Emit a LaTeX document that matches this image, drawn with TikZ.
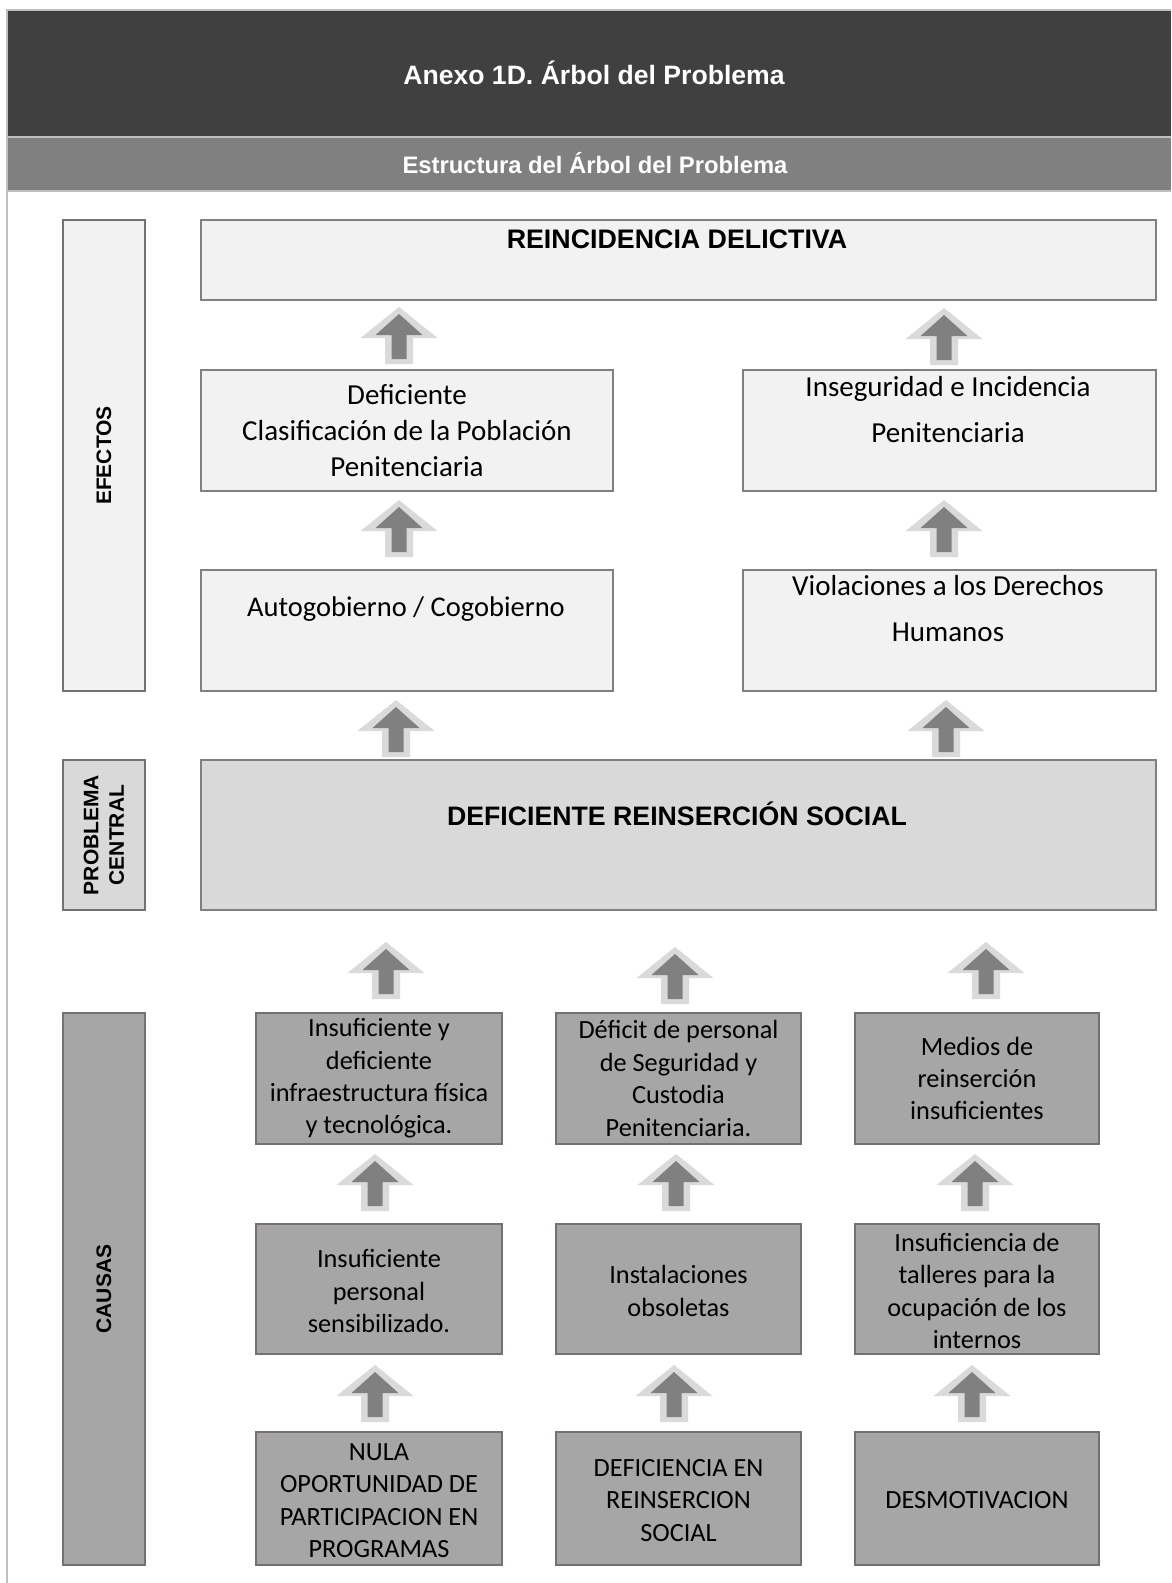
\documentclass[tikz,border=0pt]{standalone}
\usepackage{fontspec}
\setmainfont{Carlito}
\newfontfamily\arialf{Liberation Sans}
\begin{document}
\begin{tikzpicture}[x=1pt,y=-1pt,
  effbox/.style={draw=boxline,fill=efffill,line width=2pt,inner sep=0pt,anchor=north west},
  sidebox/.style={draw=sideline,line width=2pt,inner sep=0pt,anchor=north west},
  causebox/.style={draw=sideline,fill=causefill,line width=2pt,inner sep=0pt,anchor=north west},
  efftext/.style={font=\fontsize{29}{36}\selectfont,align=center,inner sep=0pt},
  causetext/.style={font=\fontsize{26.3}{32.4}\selectfont,align=center,inner sep=0pt},
  sidetext/.style={font=\arialf\bfseries\fontsize{21}{25.5}\selectfont,align=center,inner sep=0pt,rotate=90},
  uparrow/.pic={
    \fill[arrout] (0,0) -- (38.5,31) -- (14,31) -- (14,57) -- (-14,57) -- (-14,31) -- (-38.5,31) -- cycle;
    \fill[arrin] (0,7) -- (23.5,28) -- (7.5,28) -- (7.5,52) -- (-7.5,52) -- (-7.5,28) -- (-23.5,28) -- cycle;
  }]
\definecolor{hdark}{HTML}{404040}
\definecolor{hmid}{HTML}{808080}
\definecolor{frameline}{HTML}{BFBFBF}
\definecolor{boxline}{HTML}{808080}
\definecolor{sideline}{HTML}{767171}
\definecolor{efffill}{HTML}{F2F2F2}
\definecolor{centfill}{HTML}{D9D9D9}
\definecolor{causefill}{HTML}{A6A6A6}
\definecolor{arrout}{HTML}{DADADA}
\definecolor{arrin}{HTML}{808080}
\useasboundingbox (0,0) rectangle (1171,1583);
\fill[white] (0,0) rectangle (1171,1583);
% frame and header
\fill[hdark] (8,11) rectangle (1171,136);
\fill[hmid] (8,138) rectangle (1171,190);
\draw[frameline,line width=2pt] (7,1583) -- (7,10) -- (1171,10);
\draw[frameline,line width=2pt] (8,137) -- (1171,137);
\draw[frameline,line width=2pt] (8,191) -- (1171,191);
\node[text=white,font=\arialf\bfseries\fontsize{26.6}{30}\selectfont] (title) at (594,73) {Anexo 1D. Árbol del Problema};
\node[text=white,font=\arialf\bfseries\fontsize{23.8}{27}\selectfont] (subtitle) at (595,163) {Estructura del Árbol del Problema};
% side labels
\node[sidebox,fill=efffill,minimum width=82pt,minimum height=471pt] (efe) at (62,219) {};
\node[sidetext] (efet) at (efe.center) {EFECTOS};
\node[sidebox,fill=centfill,minimum width=82pt,minimum height=150pt] (pc) at (62,759) {};
\node[sidetext] (pct) at (pc.center) {PROBLEMA\\CENTRAL};
\node[sidebox,fill=causefill,minimum width=82pt,minimum height=552pt] (cau) at (62,1012) {};
\node[sidetext] (caut) at (cau.center) {CAUSAS};
% effects
\node[effbox,minimum width=955pt,minimum height=80pt] (rein) at (200,219) {};
\node[font=\arialf\bfseries\fontsize{26.8}{30}\selectfont,inner sep=0pt] (reint) at (677,239) {REINCIDENCIA DELICTIVA};
\node[effbox,minimum width=412pt,minimum height=121pt] (clas) at (200,369) {};
\node[efftext] (clast) at (clas.center) {Deficiente\\Clasificación de la Población\\Penitenciaria};
\node[effbox,minimum width=413pt,minimum height=121pt] (inseg) at (742,369) {};
\node[efftext,font=\fontsize{29}{46}\selectfont] (insegt) at (948,410) {Inseguridad e Incidencia\\Penitenciaria};
\node[effbox,minimum width=412pt,minimum height=121pt] (auto) at (200,569) {};
\node[efftext,font=\fontsize{28.5}{36}\selectfont] (autot) at (406,609) {Autogobierno / Cogobierno};
\node[effbox,minimum width=413pt,minimum height=121pt] (viol) at (742,569) {};
\node[efftext,font=\fontsize{29}{46}\selectfont] (violt) at (948,609) {Violaciones a los Derechos\\Humanos};
% central
\node[effbox,fill=centfill,minimum width=955pt,minimum height=150pt] (cent) at (200,759) {};
\node[font=\arialf\bfseries\fontsize{26.7}{30}\selectfont,inner sep=0pt] (centt) at (677,814) {DEFICIENTE REINSERCIÓN SOCIAL};
% causes
\node[causebox,minimum width=246pt,minimum height=131pt] (c11) at (255,1012) {};
\node[causetext] at (c11.center) {Insuficiente y\\deficiente\\infraestructura física\\y tecnológica.};
\node[causebox,minimum width=245pt,minimum height=131pt] (c12) at (555,1012) {};
\node[causetext] at (c12.center) {Déficit de personal\\de Seguridad y\\Custodia\\Penitenciaria.};
\node[causebox,minimum width=244pt,minimum height=131pt] (c13) at (854,1012) {};
\node[causetext] at (c13.center) {Medios de\\reinserción\\insuficientes};
\node[causebox,minimum width=246pt,minimum height=130pt] (c21) at (255,1223) {};
\node[causetext] at ([yshift=-2pt]c21.center) {Insuficiente\\personal\\sensibilizado.};
\node[causebox,minimum width=245pt,minimum height=130pt] (c22) at (555,1223) {};
\node[causetext] at ([yshift=-2pt]c22.center) {Instalaciones\\obsoletas};
\node[causebox,minimum width=244pt,minimum height=130pt] (c23) at (854,1223) {};
\node[causetext] at ([yshift=-2pt]c23.center) {Insuficiencia de\\talleres para la\\ocupación de los\\internos};
\node[causebox,minimum width=246pt,minimum height=133pt] (c31) at (255,1431) {};
\node[causetext] at ([yshift=-2pt]c31.center) {NULA\\OPORTUNIDAD DE\\PARTICIPACION EN\\PROGRAMAS};
\node[causebox,minimum width=245pt,minimum height=133pt] (c32) at (555,1431) {};
\node[causetext] at ([yshift=-2pt]c32.center) {DEFICIENCIA EN\\REINSERCION\\SOCIAL};
\node[causebox,minimum width=244pt,minimum height=133pt] (c33) at (854,1431) {};
\node[causetext] at ([yshift=-2pt]c33.center) {DESMOTIVACION};
% arrows
\pic at (399,307) {uparrow};
\pic at (944,308) {uparrow};
\pic at (399,500) {uparrow};
\pic at (944,500) {uparrow};
\pic at (396,700) {uparrow};
\pic at (946,700) {uparrow};
\pic at (386,942) {uparrow};
\pic at (675,947) {uparrow};
\pic at (986,942) {uparrow};
\pic at (375,1154) {uparrow};
\pic at (676,1154) {uparrow};
\pic at (975,1154) {uparrow};
\pic at (375,1365) {uparrow};
\pic at (674,1365) {uparrow};
\pic at (972,1365) {uparrow};
\end{tikzpicture}
\end{document}
